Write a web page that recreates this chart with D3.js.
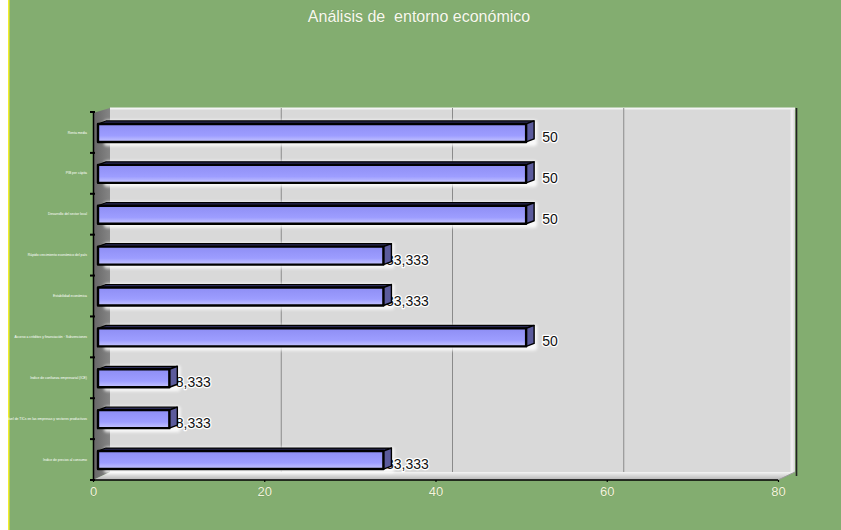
<!DOCTYPE html>
<html>
<head>
<meta charset="utf-8">
<script src="https://cdn.jsdelivr.net/npm/d3@7"></script>
<style>
  html, body { margin: 0; padding: 0; background: #ffffff; }
  svg { display: block; font-family: Arial, "Liberation Sans", sans-serif; }
  .title { white-space: pre; }
</style>
</head>
<body>
<svg id="chart" width="841" height="530"></svg>
<script>
// Factores del análisis del entorno económico (valores en %)
const categories = [
  "Renta media",
  "PIB per cápita",
  "Desarrollo del sector local",
  "Rápido crecimiento económico del país",
  "Estabilidad económica",
  "Acceso a créditos y financiación · Subvenciones",
  "Índice de confianza empresarial (ICE)",
  "Nivel de TICs en las empresas y sectores productivos",
  "Índice de precios al consumo"
];
const values = [50, 50, 50, 33.333, 33.333, 50, 8.333, 8.333, 33.333];
const valueLabels = ["50", "50", "50", "33,333", "33,333", "50", "8,333", "8,333", "33,333"];
const xTicks = [0, 20, 40, 60, 80];
const title = "Análisis de  entorno económico";

const svg = d3.select("#chart");
const W = 841, H = 530;

// Depth of the 3D box and of each bar
const DX = 17, DY = -8;
const BDX = 8, BDY = -3;

const x = d3.scaleLinear().domain([0, 80]).range([93, 778]);
const y = d3.scaleBand().domain(categories).range([112, 480]);

const defs = svg.append("defs");

const barGrad = defs.append("linearGradient").attr("id", "barFront")
  .attr("x1", 0).attr("y1", 0).attr("x2", 0).attr("y2", 1);
barGrad.append("stop").attr("offset", "0%").attr("stop-color", "#8e8ef4");
barGrad.append("stop").attr("offset", "65%").attr("stop-color", "#9d9dff");
barGrad.append("stop").attr("offset", "100%").attr("stop-color", "#c6c6ff");

const leftGrad = defs.append("linearGradient").attr("id", "leftWall")
  .attr("x1", 0).attr("y1", 0).attr("x2", 1).attr("y2", 0);
leftGrad.append("stop").attr("offset", "0%").attr("stop-color", "#666666");
leftGrad.append("stop").attr("offset", "100%").attr("stop-color", "#858585");

const floorGrad = defs.append("linearGradient").attr("id", "floor")
  .attr("x1", 0).attr("y1", 0).attr("x2", 0).attr("y2", 1);
floorGrad.append("stop").attr("offset", "0%").attr("stop-color", "#f4f4f4");
floorGrad.append("stop").attr("offset", "100%").attr("stop-color", "#b4b4b4");

const glow = defs.append("filter").attr("id", "glow")
  .attr("x", "-10%").attr("y", "-60%").attr("width", "120%").attr("height", "220%");
glow.append("feGaussianBlur").attr("stdDeviation", 1.4);

// Page background
svg.append("rect").attr("width", W).attr("height", H).attr("fill", "#83ad70");
svg.append("rect").attr("x", 0).attr("y", 0).attr("width", 8).attr("height", H).attr("fill", "#ffffff");
svg.append("rect").attr("x", 8).attr("y", 0).attr("width", 1.5).attr("height", H).attr("fill", "#f2ef2a");

// Title
svg.append("text")
  .attr("class", "title")
  .attr("x", 419).attr("y", 22)
  .attr("text-anchor", "middle")
  .attr("font-size", 16)
  .attr("fill", "#f8f8ee")
  .attr("stroke", "#5e8a4c").attr("stroke-width", 0.6).attr("stroke-opacity", 0.5)
  .attr("paint-order", "stroke")
  .text(title);

const yTop = y.range()[0], yBot = y.range()[1];
const xL = x(0), xR = x(80);

// Back wall
svg.append("rect")
  .attr("x", xL + DX).attr("y", yTop - 4)
  .attr("width", xR - xL).attr("height", (yBot + DY) - (yTop - 4))
  .attr("fill", "#d9d9d9");
svg.append("line")
  .attr("x1", xL + DX).attr("x2", xR + DX).attr("y1", yTop - 3.5).attr("y2", yTop - 3.5)
  .attr("stroke", "#f4f4f4").attr("stroke-width", 2);
svg.append("line")
  .attr("x1", xR + DX - 3).attr("x2", xR + DX - 3).attr("y1", yTop - 3).attr("y2", yBot + DY)
  .attr("stroke", "#eeeeee").attr("stroke-width", 3);
svg.append("line")
  .attr("x1", xR + DX + 1.5).attr("x2", xR + DX + 1.5).attr("y1", yTop - 4).attr("y2", yBot + DY + 4)
  .attr("stroke", "#222").attr("stroke-width", 1.6);

// Vertical gridlines on the back wall
svg.append("g").selectAll("line")
  .data(xTicks.filter(d => d > 0 && d < 80))
  .join("line")
  .attr("x1", d => x(d) + DX).attr("x2", d => x(d) + DX)
  .attr("y1", yTop - 4).attr("y2", yBot + DY)
  .attr("stroke", "#8a8a8a").attr("stroke-width", 1);

// Left wall
svg.append("polygon")
  .attr("points", [[xL, yTop + 1], [xL + DX, yTop - 4], [xL + DX, yBot + DY], [xL, yBot]].join(" "))
  .attr("fill", "url(#leftWall)");

// Floor
svg.append("polygon")
  .attr("points", [[xL, yBot], [xL + DX, yBot + DY], [xR + DX, yBot + DY], [xR, yBot]].join(" "))
  .attr("fill", "url(#floor)");

// White halo behind each bar
const cy = d => y(d) + y.bandwidth() / 2 + 0.5;
const BH = 18, BX0 = 5;
svg.append("g").selectAll("rect")
  .data(categories)
  .join("rect")
  .attr("x", xL + BX0 + 6)
  .attr("y", d => cy(d) - BH / 2 - 4)
  .attr("width", (d, i) => x(values[i]) - xL + BDX - 3)
  .attr("height", BH + 8)
  .attr("rx", 3)
  .attr("fill", "#ffffff")
  .attr("opacity", 0.85)
  .attr("filter", "url(#glow)");

// Value labels (drawn under the bars so the bar end overlaps them)
svg.append("g").selectAll("text")
  .data(categories)
  .join("text")
  .attr("x", (d, i) => x(values[i]) + BX0 + 24)
  .attr("y", d => cy(d) + 9)
  .attr("text-anchor", "middle")
  .attr("font-size", 14)
  .attr("fill", "#111111")
  .attr("stroke", "#ffffff").attr("stroke-width", 2.5)
  .attr("stroke-linejoin", "round")
  .attr("paint-order", "stroke")
  .text((d, i) => valueLabels[i]);

// Bars: front, top and right faces
const bars = svg.append("g").selectAll("g")
  .data(categories)
  .join("g");

bars.append("polygon")
  .attr("points", (d, i) => {
    const x0 = xL + BX0, x1 = x(values[i]) + BX0, y0 = cy(d) - BH / 2;
    return [[x0, y0], [x0 + BDX, y0 + BDY], [x1 + BDX, y0 + BDY], [x1, y0]].join(" ");
  })
  .attr("fill", "#2a2a55").attr("stroke", "#000").attr("stroke-width", 1.2)
  .attr("stroke-linejoin", "round");

bars.append("polygon")
  .attr("points", (d, i) => {
    const x1 = x(values[i]) + BX0, y0 = cy(d) - BH / 2, y1 = cy(d) + BH / 2;
    return [[x1, y0], [x1 + BDX, y0 + BDY], [x1 + BDX, y1 + BDY], [x1, y1]].join(" ");
  })
  .attr("fill", "#5b5b9c").attr("stroke", "#000").attr("stroke-width", 1.4)
  .attr("stroke-linejoin", "round");

bars.append("rect")
  .attr("x", xL + BX0)
  .attr("y", d => cy(d) - BH / 2)
  .attr("width", (d, i) => x(values[i]) - xL)
  .attr("height", BH)
  .attr("fill", "url(#barFront)")
  .attr("stroke", "#000").attr("stroke-width", 2.4)
  .attr("stroke-linejoin", "round");

// Category axis (front left edge)
const yAxis = svg.append("g")
  .attr("transform", `translate(${xL},0)`)
  .call(d3.axisLeft(y).tickSize(0).tickPadding(6));
yAxis.select(".domain").attr("stroke", "#000").attr("stroke-width", 1.5);
yAxis.selectAll("text")
  .attr("fill", "#ffffff").attr("font-size", 3.4)
  .attr("font-family", "Arial, 'Liberation Sans', sans-serif");

// Tick marks on band boundaries
const bounds = categories.map(d => y(d)).concat([yBot]);
svg.append("g").selectAll("line")
  .data(bounds)
  .join("line")
  .attr("x1", xL - 3).attr("x2", xL + 2)
  .attr("y1", d => d).attr("y2", d => d)
  .attr("stroke", "#000").attr("stroke-width", 2);

// Value axis (front bottom edge)
svg.append("line")
  .attr("x1", xL).attr("x2", xR).attr("y1", yBot).attr("y2", yBot)
  .attr("stroke", "#000").attr("stroke-width", 1.5);
svg.append("line")
  .attr("x1", xR).attr("x2", xR + DX).attr("y1", yBot).attr("y2", yBot + DY)
  .attr("stroke", "#9a9a9a").attr("stroke-width", 1);
const xAxis = svg.append("g")
  .attr("transform", `translate(0,${yBot})`)
  .call(d3.axisBottom(x).tickValues(xTicks).tickFormat(d3.format("d")).tickSize(2).tickPadding(5));
xAxis.select(".domain").remove();
xAxis.selectAll("line").attr("stroke", "#000").attr("stroke-width", 1.2);
xAxis.selectAll("text")
  .attr("fill", "#f3f3dc").attr("font-size", 13)
  .attr("stroke", "#4f7a3e").attr("stroke-width", 0.6).attr("stroke-opacity", 0.5)
  .attr("paint-order", "stroke")
  .attr("font-family", "Arial, 'Liberation Sans', sans-serif");
</script>
</body>
</html>
